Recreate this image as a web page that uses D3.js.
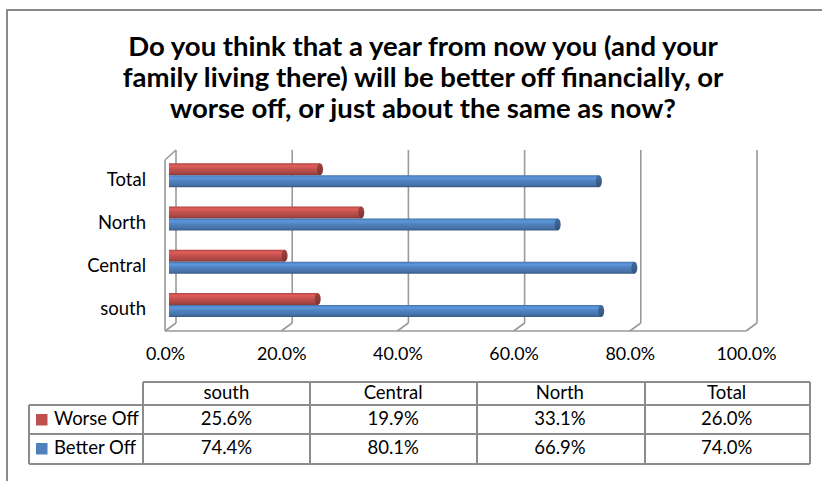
<!DOCTYPE html>
<html>
<head>
<meta charset="utf-8">
<script src="https://cdn.jsdelivr.net/npm/d3@7/dist/d3.min.js"></script>
<style>
  html, body { margin: 0; padding: 0; background: #fff; }
  svg { display: block; }
</style>
</head>
<body>
<svg id="chart" width="822" height="481"></svg>
<script>
// ---------- data ----------
const categories = ["south", "Central", "North", "Total"];
const seriesNames = ["Worse Off", "Better Off"];
const worseOff = [0.256, 0.199, 0.331, 0.260];
const betterOff = [0.744, 0.801, 0.669, 0.740];
const tickValues = [0, 0.2, 0.4, 0.6, 0.8, 1.0];
const titleLines = [
  "Do you think that a year from now you (and your",
  "family living there) will be better off financially, or",
  "worse off, or just about the same as now?"
];

// ---------- setup ----------
const FONT = "Lato, 'Open Sans', sans-serif";
const svg = d3.select("#chart");
svg.append("rect").attr("width", 822).attr("height", 481).attr("fill", "#fff");

function fitSize(sample, targetW, weight) {
  const t = svg.append("text").attr("font-family", FONT).attr("font-weight", weight || "normal")
    .attr("font-size", 100).text(sample);
  const w = t.node().getComputedTextLength();
  t.remove();
  return 100 * targetW / w;
}
const titleSize = fitSize(titleLines[0], 590, "bold");
const labelSize = fitSize("North", 48);
const tickSize = fitSize("100.0%", 60);
const tableSize = fitSize("Worse Off", 85);

const colors = { "Worse Off": "#C0504D", "Better Off": "#4F81BD" };

// outer chart border (top & left visible)
svg.append("line").attr("x1", 7).attr("x2", 822).attr("y1", 10).attr("y2", 10)
  .attr("stroke", "#8a8a8a").attr("stroke-width", 2);
svg.append("line").attr("x1", 7).attr("x2", 7).attr("y1", 9).attr("y2", 481)
  .attr("stroke", "#8a8a8a").attr("stroke-width", 2);

// title
const title = svg.append("text").attr("font-family", FONT).attr("font-weight", "bold")
  .attr("font-size", titleSize).attr("text-anchor", "middle").attr("fill", "#000");
titleLines.forEach((l, i) => {
  title.append("tspan").attr("x", 423).attr("y", 56 + i * 31).text(l);
});

// ---------- 3D plot geometry ----------
const depthDx = -11, depthDy = 8;
const backTop = 150, backBottom = 323;
const xBack = d3.scaleLinear().domain([0, 1]).range([176, 757]);
const xFront = d3.scaleLinear().domain([0, 1]).range([176 + depthDx, 757 + depthDx]);
const order = categories.slice().reverse(); // Total on top
const yBack = d3.scaleBand().domain(order).range([backTop, backBottom]).padding(0);
const yFront = d3.scaleBand().domain(order).range([backTop + depthDy, backBottom + depthDy]).padding(0);

const grid = svg.append("g").attr("stroke", "#9a9a9a").attr("stroke-width", 1.6).attr("fill", "none");
// back wall vertical gridlines
grid.selectAll(".vg").data(tickValues).join("line")
  .attr("x1", d => xBack(d)).attr("x2", d => xBack(d))
  .attr("y1", backTop).attr("y2", backBottom);
// floor diagonals
grid.selectAll(".fd").data(tickValues).join("line")
  .attr("x1", d => xBack(d)).attr("x2", d => xFront(d))
  .attr("y1", backBottom).attr("y2", backBottom + depthDy);
// floor front edge
grid.append("line").attr("x1", xFront(0)).attr("x2", xFront(1))
  .attr("y1", backBottom + depthDy).attr("y2", backBottom + depthDy);
// left wall front edge & top
grid.append("line").attr("x1", xFront(0)).attr("x2", xFront(0))
  .attr("y1", backTop + depthDy + 2).attr("y2", backBottom + depthDy);
grid.append("line").attr("x1", xFront(0)).attr("x2", xBack(0))
  .attr("y1", backTop + depthDy + 2).attr("y2", backTop);

// ---------- bars (cylinders) ----------
const defs = svg.append("defs");
function cylGrad(id, c) {
  const base = d3.color(c);
  const g = defs.append("linearGradient").attr("id", id)
    .attr("x1", 0).attr("x2", 0).attr("y1", 0).attr("y2", 1);
  g.append("stop").attr("offset", "0%").attr("stop-color", base.darker(0.3));
  g.append("stop").attr("offset", "22%").attr("stop-color", base.brighter(0.45));
  g.append("stop").attr("offset", "50%").attr("stop-color", base);
  g.append("stop").attr("offset", "82%").attr("stop-color", base.darker(0.35));
  g.append("stop").attr("offset", "100%").attr("stop-color", base.darker(1.1));
  const e = defs.append("linearGradient").attr("id", id + "cap")
    .attr("x1", 0).attr("x2", 0).attr("y1", 0).attr("y2", 1);
  e.append("stop").attr("offset", "0%").attr("stop-color", base.darker(0.5));
  e.append("stop").attr("offset", "100%").attr("stop-color", base.darker(1.2));
}
cylGrad("gWorse", colors["Worse Off"]);
cylGrad("gBetter", colors["Better Off"]);

const barH = 12;
const barShift = depthDx * 0.64; // mid-depth
const yShift = depthDy * 0.45;
const barData = [];
categories.forEach((c, i) => {
  barData.push({ cat: c, s: "Worse Off", v: worseOff[i], grad: "gWorse", off: -barH });
  barData.push({ cat: c, s: "Better Off", v: betterOff[i], grad: "gBetter", off: 0 });
});
const bars = svg.append("g");
const bg = bars.selectAll("g").data(barData).join("g");
bg.append("rect")
  .attr("x", xBack(0) + barShift)
  .attr("y", d => yBack(d.cat) + yBack.bandwidth() / 2 + yShift + d.off)
  .attr("width", d => xBack(d.v) - xBack(0))
  .attr("height", barH)
  .attr("fill", d => `url(#${d.grad})`);
bg.append("ellipse")
  .attr("cx", d => xBack(d.v) + barShift)
  .attr("cy", d => yBack(d.cat) + yBack.bandwidth() / 2 + yShift + d.off + barH / 2)
  .attr("rx", 3).attr("ry", barH / 2)
  .attr("fill", d => `url(#${d.grad}cap)`);

// ---------- axes ----------
const yAxis = d3.axisLeft(yFront).tickSize(0).tickPadding(0);
const ya = svg.append("g").attr("transform", "translate(146,0)").call(yAxis);
ya.select(".domain").remove();
ya.selectAll("text").attr("font-family", FONT).attr("font-size", labelSize).attr("fill", "#000");

const xAxis = d3.axisBottom(xFront).tickValues(tickValues).tickFormat(d3.format(".1%")).tickSize(0)
  .tickPadding(360 - (backBottom + depthDy) - 0.71 * tickSize);
const xa = svg.append("g").attr("transform", `translate(0,${backBottom + depthDy})`).call(xAxis);
xa.select(".domain").remove();
xa.selectAll("text").attr("font-family", FONT).attr("font-size", tickSize).attr("fill", "#000");

// ---------- data table ----------
const colEdges = [143, 310, 477, 645, 810];
const rowEdges = [382, 405, 434, 464];
const legendLeft = 29;
const tcol = d3.scaleBand().domain(categories).range([colEdges[0], colEdges[4]]);
const tbl = svg.append("g");
const lineStyle = s => s.attr("stroke", "#8c8c8c").attr("stroke-width", 2);
// horizontal lines
tbl.append("line").attr("x1", colEdges[0]).attr("x2", colEdges[4]).attr("y1", rowEdges[0]).attr("y2", rowEdges[0]).call(lineStyle);
[1, 2, 3].forEach(r => {
  tbl.append("line").attr("x1", legendLeft).attr("x2", colEdges[4]).attr("y1", rowEdges[r]).attr("y2", rowEdges[r]).call(lineStyle);
});
// vertical lines
tbl.append("line").attr("x1", legendLeft).attr("x2", legendLeft).attr("y1", rowEdges[1]).attr("y2", rowEdges[3]).call(lineStyle);
colEdges.forEach(x => {
  tbl.append("line").attr("x1", x).attr("x2", x).attr("y1", rowEdges[0]).attr("y2", rowEdges[3]).call(lineStyle);
});
// headers
tbl.selectAll(".hdr").data(categories).join("text")
  .attr("x", d => tcol(d) + tcol.bandwidth() / 2).attr("y", 399)
  .attr("text-anchor", "middle").attr("font-family", FONT).attr("font-size", tableSize).attr("fill", "#000")
  .text(d => d);
const rowsData = [worseOff, betterOff];
const rowBase = [425, 454];
seriesNames.forEach((s, r) => {
  tbl.append("rect").attr("x", 36).attr("y", rowBase[r] - 11).attr("width", 11.5).attr("height", 11.5)
    .attr("fill", colors[s]);
  tbl.append("text").attr("x", 54).attr("y", rowBase[r])
    .attr("font-family", FONT).attr("font-size", tableSize).attr("fill", "#000").text(s);
  tbl.selectAll(".v" + r).data(categories).join("text")
    .attr("x", d => tcol(d) + tcol.bandwidth() / 2).attr("y", rowBase[r])
    .attr("text-anchor", "middle").attr("font-family", FONT).attr("font-size", tableSize).attr("fill", "#000")
    .text((d, i) => d3.format(".1%")(rowsData[r][i]));
});
</script>
</body>
</html>
